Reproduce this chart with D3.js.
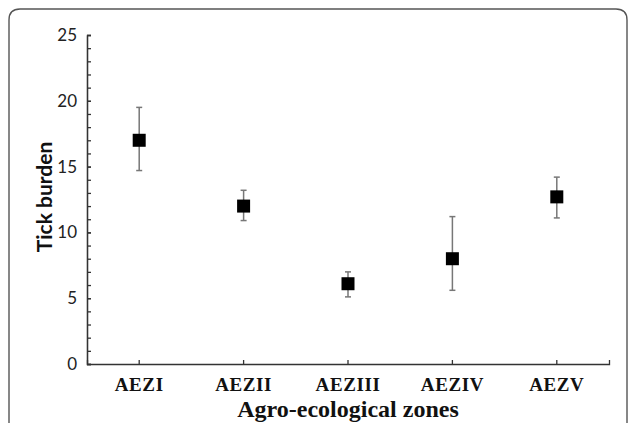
<!DOCTYPE html>
<html>
<head>
<meta charset="utf-8">
<script src="https://cdn.jsdelivr.net/npm/d3@7"></script>
<style>
  html, body { margin: 0; background: #fff; overflow: hidden; }
  svg { display: block; }
  .axis path, .axis line { stroke: #333; stroke-width: 1.3; }
  .y-axis text { font-family: Lato, sans-serif; font-size: 17px; fill: #222; }
  .x-axis text { font-family: 'Liberation Serif', serif; font-size: 19px; font-weight: bold; fill: #111; letter-spacing: 0.6px; }
</style>
</head>
<body>
<svg></svg>
<script>
const w = 629
const h = 423

// data
const zones = ['AEZI', 'AEZII', 'AEZIII', 'AEZIV', 'AEZV']
const means = [17.0, 12.0, 6.1, 8.0, 12.7]
const upper = [19.5, 13.2, 7.0, 11.2, 14.2]
const lower = [14.7, 10.9, 5.1, 5.6, 11.1]
const yTicks = [0, 5, 10, 15, 20, 25]

const data = zones.map((z, i) => ({ zone: z, mean: means[i], hi: upper[i], lo: lower[i] }))

const svg = d3.select('svg')
  .attr('width', w)
  .attr('height', h);

// frame with rounded corners, runs off the bottom
svg.append('path')
  .attr('d', 'M9,423 V20 Q9,9 20,9 H616 Q627,9 627,20 V423')
  .attr('fill', 'none')
  .attr('stroke', '#555')
  .attr('stroke-width', 1.4);

const margin = { top: 35, left: 87, right: 20, bottom: 59 };
const innerWidth = 609 - margin.left;
const innerHeight = 364 - margin.top;

const xScale = d3.scaleBand()
  .domain(zones)
  .range([0, innerWidth]);

const yScale = d3.scaleLinear()
  .domain([0, 25])
  .range([innerHeight, 0]);

const g = svg.append('g')
  .attr('transform', `translate(${margin.left}, ${margin.top})`);

// minor ticks every 1 unit (inward)
const minorAxis = d3.axisLeft(yScale)
  .tickValues(d3.range(0, 26, 1))
  .tickSize(-4)
  .tickFormat('');
const minorG = g.append('g').attr('class', 'axis').call(minorAxis);
minorG.selectAll('text').remove();

const yAxis = d3.axisLeft(yScale)
  .tickValues(yTicks)
  .tickSize(-4)
  .tickSizeOuter(0)
  .tickPadding(10);
const yAxisG = g.append('g').attr('class', 'axis y-axis').call(yAxis);

const xAxis = d3.axisBottom(xScale)
  .tickSize(-4)
  .tickSizeOuter(-4)
  .tickPadding(10);
const xAxisG = g.append('g').attr('class', 'axis x-axis')
  .attr('transform', `translate(0, ${innerHeight})`)
  .call(xAxis);
xAxisG.selectAll('text').attr('dy', '0.9em');

// axis titles
svg.append('text')
  .attr('transform', 'translate(52, 197) rotate(-90)')
  .attr('text-anchor', 'middle')
  .attr('font-family', 'Lato, sans-serif')
  .attr('font-weight', 'bold')
  .attr('font-size', 21)
  .attr('fill', '#111')
  .text('Tick burden');

svg.append('text')
  .attr('x', margin.left + innerWidth / 2)
  .attr('y', 417)
  .attr('text-anchor', 'middle')
  .attr('font-family', "'Liberation Serif', serif")
  .attr('font-weight', 'bold')
  .attr('font-size', 24)
  .attr('fill', '#111')
  .text('Agro-ecological zones');

const cx = d => xScale(d.zone) + xScale.bandwidth() / 2;

// error bars
const bars = g.selectAll('.err').data(data).enter().append('g').attr('class', 'err')
  .attr('stroke', '#777').attr('stroke-width', 1.5);
bars.append('line')
  .attr('x1', cx).attr('x2', cx)
  .attr('y1', d => yScale(d.hi)).attr('y2', d => yScale(d.lo));
bars.append('line')
  .attr('x1', d => cx(d) - 3).attr('x2', d => cx(d) + 3)
  .attr('y1', d => yScale(d.hi)).attr('y2', d => yScale(d.hi));
bars.append('line')
  .attr('x1', d => cx(d) - 3).attr('x2', d => cx(d) + 3)
  .attr('y1', d => yScale(d.lo)).attr('y2', d => yScale(d.lo));

// square markers
const s = 13;
g.selectAll('.pt').data(data).enter().append('rect')
  .attr('class', 'pt')
  .attr('x', d => cx(d) - s / 2)
  .attr('y', d => yScale(d.mean) - s / 2)
  .attr('width', s).attr('height', s)
  .attr('fill', '#000');
</script>
</body>
</html>
